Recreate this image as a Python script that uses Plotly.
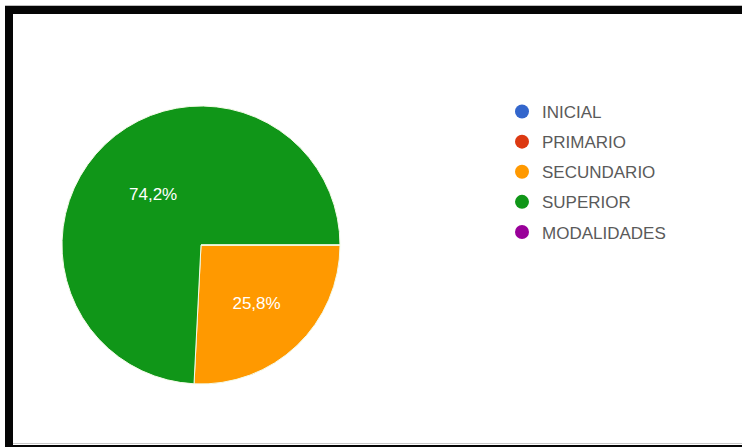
import plotly.graph_objects as go

categories = ["INICIAL", "PRIMARIO", "SECUNDARIO", "SUPERIOR", "MODALIDADES"]
values = [0, 0, 25.8, 74.2, 0]
colors = ["#3366CC", "#DC3912", "#FF9900", "#109618", "#990099"]

W, H = 742, 447
FONT = "Arial, Liberation Sans, sans-serif"

fig = go.Figure()

# pie centred at (200, 245) px with radius ~139 px
cx, cy, r = 201, 245, 139
fig.add_trace(go.Pie(
    labels=categories,
    values=values,
    marker=dict(colors=colors, line=dict(color="#f4fbe8", width=1)),
    sort=False,
    direction="clockwise",
    rotation=90,
    texttemplate="%{percent:.1%}",
    textinfo="percent",
    textposition="inside",
    insidetextorientation="horizontal",
    textfont=dict(family=FONT, size=17, color="white"),
    showlegend=False,
    hoverinfo="label+percent",
    domain=dict(x=[(cx - r) / W, (cx + r) / W], y=[(H - cy - r) / H, (H - cy + r) / H]),
))

# legend entries with circular markers
for i, (cat, col) in enumerate(zip(categories, colors)):
    fig.add_trace(go.Scatter(
        x=[None], y=[None], mode="markers", name=cat,
        legendgroup=cat,
        marker=dict(color=col, size=14, symbol="circle"),
        showlegend=True, hoverinfo="skip",
    ))

black = "#050505"
shapes = [
    # top gray hairline and black band
    dict(type="rect", xref="paper", yref="paper", x0=5 / W, x1=1, y0=1 - 6 / H, y1=1 - 5 / H,
         fillcolor="#bdbdbd", line=dict(width=0), layer="above"),
    dict(type="rect", xref="paper", yref="paper", x0=5 / W, x1=1, y0=1 - 14 / H, y1=1 - 6 / H,
         fillcolor=black, line=dict(width=0), layer="above"),
    # left black band
    dict(type="rect", xref="paper", yref="paper", x0=5 / W, x1=13 / W, y0=0, y1=1 - 6 / H,
         fillcolor=black, line=dict(width=0), layer="above"),
    # bottom gray line and black band
    dict(type="rect", xref="paper", yref="paper", x0=13 / W, x1=1, y0=3 / H, y1=4 / H,
         fillcolor="#c8c8c8", line=dict(width=0), layer="above"),
    dict(type="rect", xref="paper", yref="paper", x0=5 / W, x1=1, y0=0, y1=2 / H,
         fillcolor=black, line=dict(width=0), layer="above"),
]

fig.update_layout(
    width=W, height=H,
    margin=dict(l=0, r=0, t=0, b=0),
    paper_bgcolor="white", plot_bgcolor="white",
    separators=",.",
    xaxis=dict(visible=False), yaxis=dict(visible=False),
    legend=dict(
        x=502 / W, y=1 - 94 / H, xanchor="left", yanchor="top",
        font=dict(family=FONT, size=17, color="#5a5a5a"),
        traceorder="grouped", tracegroupgap=5,
        bgcolor="rgba(0,0,0,0)",
    ),
    shapes=shapes,
    showlegend=True,
)

fig.write_html("out.html")
